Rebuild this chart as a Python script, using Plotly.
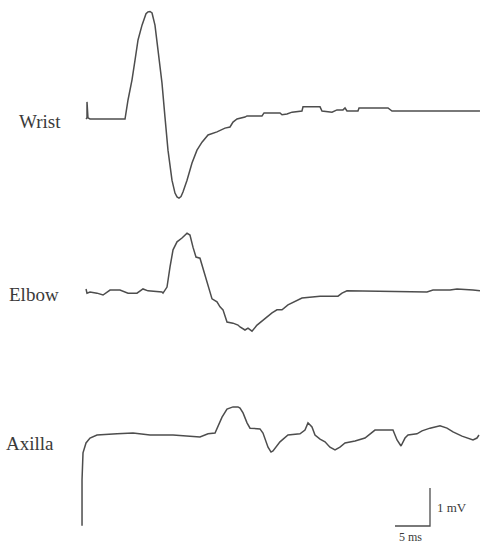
import plotly.graph_objects as go

# ---- data: time (ms) and amplitude (mV) ----
wrist_t = [0.86, 1.0, 1.0, 1.14, 1.43, 6.43, 6.86, 7.43, 7.86, 8.29, 8.86, 9.29, 9.43, 9.71, 10.0, 10.29, 10.71,
           11.14, 11.71, 12.14, 12.57, 13.14, 13.57, 13.86, 14.14, 14.43, 14.71, 15.29, 16.0, 16.71, 17.43, 18.29,
           19.57, 20.71, 21.43, 21.86, 22.43, 23.57, 23.86, 26.0, 26.29, 28.57, 28.86, 29.57, 30.29,
           31.71, 31.86, 34.29, 34.57, 36.0, 36.71, 37.57, 37.86, 38.14, 39.71, 39.86, 44.0, 44.57, 57.14]
wrist_mv = [0, 0.03, 0.45, 0.03, 0, 0, 0.50, 1.03, 1.55, 2.08, 2.47, 2.70, 2.77, 2.82, 2.83, 2.79, 2.47,
            1.82, 0.95, 0.05, -0.82, -1.61, -1.95, -2.05, -2.08, -2.04, -1.92, -1.61, -1.16, -0.82, -0.61, -0.42,
            -0.34, -0.24, -0.21, -0.08, 0, 0.05, 0.08, 0.08, 0.16, 0.16, 0.11, 0.13, 0.18,
            0.21, 0.32, 0.32, 0.21, 0.18, 0.24, 0.24, 0.29, 0.21, 0.21, 0.29, 0.29, 0.21, 0.21]

elbow_t = [0.86, 1.0, 1.43, 2.43, 3.29, 4.29, 5.71, 6.86, 8.14, 9.0, 9.71, 11.71, 11.86, 12.43, 12.86,
           13.29, 13.86, 14.57, 15.29, 15.71, 16.14, 16.57, 17.14, 17.57, 18.29, 18.86, 19.57, 20.0,
           20.43, 21.0, 21.86, 22.57, 22.86, 23.57, 24.0, 24.57, 25.29, 26.14, 27.43, 28.14, 28.86,
           29.71, 30.71, 31.71, 34.29, 36.86, 37.43, 38.14, 49.57, 50.43, 52.86, 53.86, 56.14, 57.14]
elbow_mv = [0.08, -0.03, 0, -0.03, -0.08, 0.05, 0.05, -0.03, -0.03, 0.08, 0.03, 0, -0.03, 0.13, 0.66,
            1.11, 1.32, 1.42, 1.55, 1.50, 1.18, 0.92, 0.89, 0.63, 0.13, -0.18, -0.26, -0.39,
            -0.47, -0.79, -0.82, -0.87, -0.92, -1.0, -0.95, -1.03, -0.87, -0.74, -0.55, -0.47, -0.47,
            -0.34, -0.26, -0.16, -0.11, -0.11, -0.03, 0.03, 0, 0.05, 0.05, 0.08, 0.05, 0.03]

axilla_t = [0.29, 0.29, 0.43, 0.86, 1.43, 2.43, 5.29, 7.57, 10.0, 13.29, 17.14, 18.29, 19.29, 19.71,
            20.29, 21.0, 21.86, 22.57, 22.86, 23.29, 23.86, 24.29, 25.71, 26.14, 26.86, 27.29, 27.57,
            28.57, 29.71, 31.43, 32.14, 32.57, 33.14, 33.57, 34.29, 35.0, 35.71, 36.43, 37.14, 37.86,
            39.29, 40.71, 41.71, 42.14, 44.71, 45.29, 45.86, 46.43, 46.86, 48.14, 48.86, 50.0, 51.43,
            52.43, 53.29, 54.57, 56.14, 56.71, 57.0]
axilla_mv = [-2.39, -1.18, -0.47, -0.21, -0.08, 0, 0.03, 0.05, 0, 0, -0.05, 0.03, 0.05, 0.21,
             0.47, 0.68, 0.74, 0.74, 0.71, 0.58, 0.32, 0.18, 0.16, 0.05, -0.32, -0.45, -0.42,
             -0.18, 0, 0.03, 0.13, 0.32, 0.21, 0, -0.11, -0.18, -0.32, -0.39, -0.32, -0.21,
             -0.16, -0.08, 0.05, 0.13, 0.13, -0.13, -0.29, -0.08, 0, 0.03, 0.11, 0.18, 0.24,
             0.18, 0.08, -0.03, -0.13, -0.08, 0]

labels = ["Wrist", "Elbow", "Axilla"]
scale_ms = 5
scale_mv = 1

# ---- layout constants (pixels of the 480x546 canvas) ----
W, H = 480, 546
PX_MS = 7.0      # pixels per ms
PX_MV = 38.0     # pixels per mV
T0_PX = 80       # pixel x of t = 0
base_px = [119, 292, 435]          # baseline pixel y of each trace
label_right_px = [63, 61, 56]
label_y_px = [122, 294, 443]
bar_end_px, bar_bottom_px = 430, 526

color = "#4d4d4d"
offsets = [-b / PX_MV for b in base_px]

fig = go.Figure()
for t, v, off in zip([wrist_t, elbow_t, axilla_t], [wrist_mv, elbow_mv, axilla_mv], offsets):
    fig.add_trace(go.Scatter(x=t, y=[vv + off for vv in v], mode="lines",
                             line=dict(color=color, width=1.5), hoverinfo="skip",
                             showlegend=False))

# scale bar
t_end = (bar_end_px - T0_PX) / PX_MS
y_bot = -bar_bottom_px / PX_MV
fig.add_trace(go.Scatter(x=[t_end - scale_ms, t_end, t_end], y=[y_bot, y_bot, y_bot + scale_mv],
                         mode="lines", line=dict(color=color, width=1.3),
                         hoverinfo="skip", showlegend=False))

for name, xr, yc in zip(labels, label_right_px, label_y_px):
    fig.add_annotation(text=name, xref="paper", yref="paper", x=xr / W, y=1 - yc / H,
                       xanchor="right", yanchor="middle", showarrow=False,
                       font=dict(family="Liberation Serif", size=19, color="#3a3a3a"))

fig.add_annotation(text=f"{scale_mv} mV", xref="paper", yref="paper", x=435 / W, y=1 - 507 / H,
                   xanchor="left", yanchor="middle", showarrow=False,
                   font=dict(family="Liberation Serif", size=13, color="#3a3a3a"))
fig.add_annotation(text=f"{scale_ms} ms", xref="paper", yref="paper", x=410 / W, y=1 - 537 / H,
                   xanchor="center", yanchor="middle", showarrow=False,
                   font=dict(family="Liberation Serif", size=12, color="#3a3a3a"))

fig.update_xaxes(range=[-T0_PX / PX_MS, (W - T0_PX) / PX_MS], visible=False, fixedrange=True)
fig.update_yaxes(range=[-H / PX_MV, 0], visible=False, fixedrange=True)
fig.update_layout(width=W, height=H, margin=dict(l=0, r=0, t=0, b=0),
                  plot_bgcolor="white", paper_bgcolor="white")

fig.write_html("out.html", config={"displayModeBar": False})
